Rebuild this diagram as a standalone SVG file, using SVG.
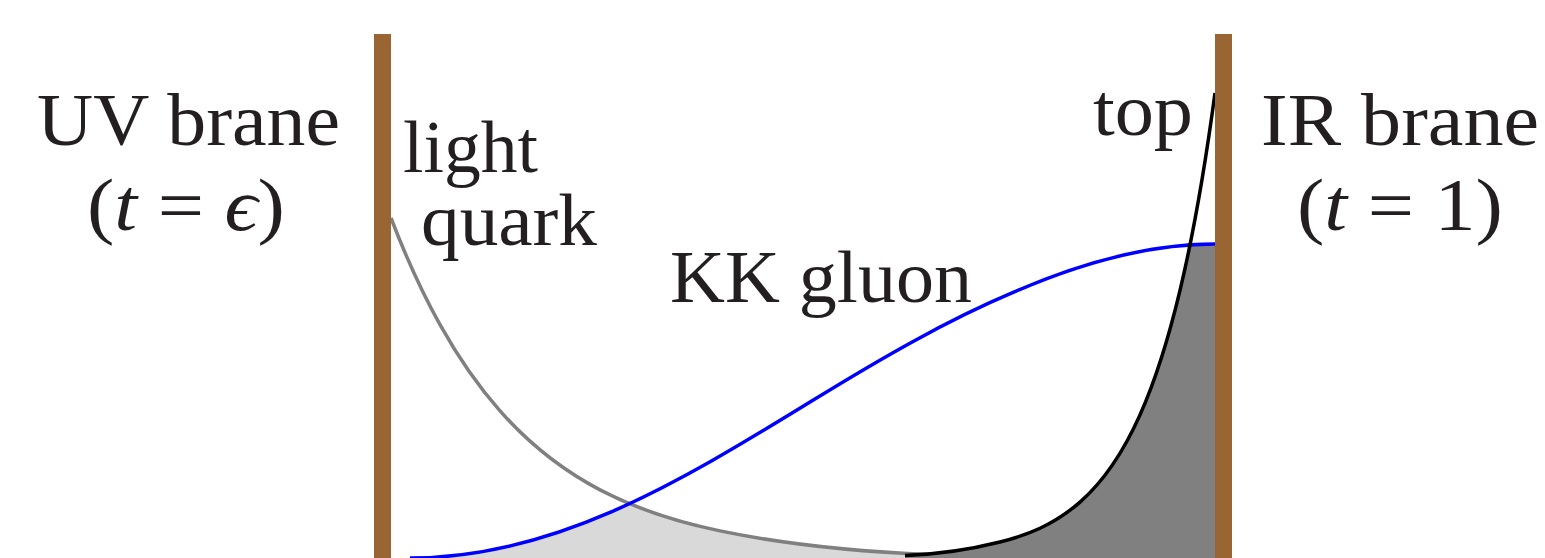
<svg xmlns="http://www.w3.org/2000/svg" xmlns:xlink="http://www.w3.org/1999/xlink" width="1545" height="558" viewBox="0 0 1545 558">
<style>
.lbl{font-family:"Liberation Serif","DejaVu Serif",serif;font-size:74px;fill:#231f20}
.it{font-style:italic}
.brane{fill:#996633}
.crv{fill:none;stroke-width:3.5}
</style>
<defs>
<path id="blueArea" d="M410,560 L410,558 C477.08,558 544.17,541.03 611.25,511.87 C678.33,482.71 745.42,441.74 812.5,400.5 C879.58,359.26 946.67,320.29 1013.75,292.13 C1080.83,262.97 1147.92,244 1215,244 L1215,560 Z"/>
<clipPath id="underGray">
<path d="M391,218 C407.33,260.7 423.67,295.4 440,324.7 C460,360.6 480,388.3 500,410.9 C533.33,448.6 566.67,472.4 600,489.9 C640,510.8 680,522.6 720,530.9 C790,545.5 860,551.7 930,554.6 L930,560 L391,560 Z"/>
</clipPath>
<clipPath id="underBlack">
<path d="M905,555.5 C933.33,554.5 966.67,550.35 1000,542 C1026.67,535.3 1053.33,525.4 1080,502.1 C1100,484.6 1120,459.7 1140,414.9 C1153.33,385 1166.67,346.3 1180,290.4 C1191.67,241.5 1203.33,179.6 1215,93 L1215,560 L905,560 Z"/>
</clipPath>
</defs>
<g id="fills">
<use xlink:href="#blueArea" fill="#d9d9d9" clip-path="url(#underGray)"/>
<use xlink:href="#blueArea" fill="#808080" clip-path="url(#underBlack)"/>
</g>
<g id="connectors">
<path id="lightQuarkCurve" class="crv" stroke="#808080" d="M391,218 C407.33,260.7 423.67,295.4 440,324.7 C460,360.6 480,388.3 500,410.9 C533.33,448.6 566.67,472.4 600,489.9 C640,510.8 680,522.6 720,530.9 C790,545.5 860,551.7 930,554.6"/>
<path id="gluonCurve" class="crv" stroke="#0000ff" d="M410,558 C477.08,558 544.17,541.03 611.25,511.87 C678.33,482.71 745.42,441.74 812.5,400.5 C879.58,359.26 946.67,320.29 1013.75,292.13 C1080.83,262.97 1147.92,244 1215,244"/>
<path id="topCurve" class="crv" stroke="#000000" d="M905,555.5 C933.33,554.5 966.67,550.35 1000,542 C1026.67,535.3 1053.33,525.4 1080,502.1 C1100,484.6 1120,459.7 1140,414.9 C1153.33,385 1166.67,346.3 1180,290.4 C1191.67,241.5 1203.33,179.6 1215,93"/>
</g>
<g id="uv-brane">
<rect class="brane" x="374" y="34" width="17" height="526"/>
<text class="lbl" x="37" y="145" textLength="303" lengthAdjust="spacingAndGlyphs">UV brane</text>
<text class="lbl" x="87" y="230" textLength="198" lengthAdjust="spacingAndGlyphs">(<tspan class="it">t</tspan> = <tspan class="it">ϵ</tspan>)</text>
</g>
<g id="ir-brane">
<rect class="brane" x="1215" y="34" width="17" height="526"/>
<text class="lbl" x="1261" y="145" textLength="278" lengthAdjust="spacingAndGlyphs">IR brane</text>
<text class="lbl" x="1297" y="230" textLength="206" lengthAdjust="spacingAndGlyphs">(<tspan class="it">t</tspan> = 1)</text>
</g>
<g id="light-quark">
<text class="lbl" x="403" y="172" textLength="135" lengthAdjust="spacingAndGlyphs">light</text>
<text class="lbl" x="421" y="245" textLength="176" lengthAdjust="spacingAndGlyphs">quark</text>
</g>
<g id="kk-gluon">
<text class="lbl" x="670" y="302" textLength="302" lengthAdjust="spacingAndGlyphs">KK gluon</text>
</g>
<g id="top">
<text class="lbl" x="1093" y="135" textLength="100" lengthAdjust="spacingAndGlyphs">top</text>
</g>
</svg>
